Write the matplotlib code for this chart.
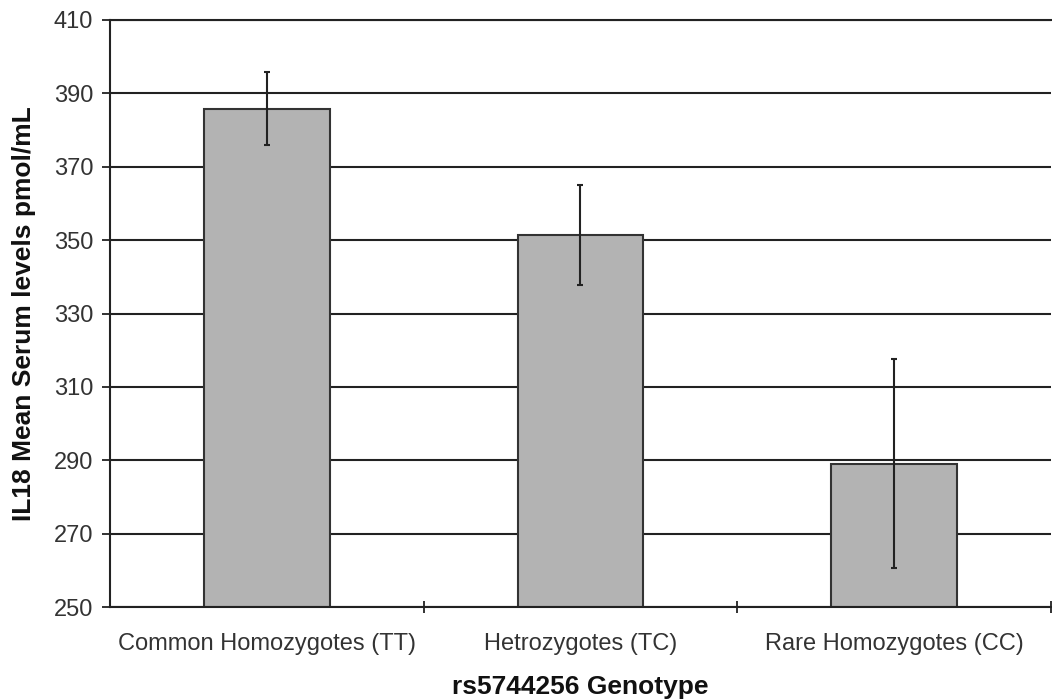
import matplotlib
matplotlib.use("Agg")
import matplotlib.pyplot as plt
import numpy as np

categories = ["Common Homozygotes (TT)", "Hetrozygotes (TC)", "Rare Homozygotes (CC)"]
means = [385.8, 351.4, 289.0]
errors = [10.0, 13.5, 28.5]
y_ticks = [250, 270, 290, 310, 330, 350, 370, 390, 410]

plt.rcParams['font.family'] = ['Liberation Sans', 'DejaVu Sans']

fig = plt.figure(figsize=(10.52, 7.0), dpi=100)
ax = fig.add_axes([110/1052, 93/700, 1 - 110/1052 - 0.001, (607-20)/700])

x = np.arange(len(categories))
ax.set_axisbelow(True)
ax.yaxis.grid(True, color='#222222', linewidth=1.5)
ax.bar(x, [m - 250 for m in means], bottom=250, width=0.4, color='#b3b3b3',
       edgecolor='#333333', linewidth=1.5, zorder=2)
ax.errorbar(x, means, yerr=errors, fmt='none', ecolor='#222222', elinewidth=1.5,
            capsize=2.5, capthick=1.5, zorder=3)

ax.set_xlim(-0.5, 2.5)
ax.set_ylim(250, 410)
ax.set_yticks(y_ticks)
ax.set_yticklabels([str(t) for t in y_ticks], fontsize=17, color='#333333')

ax.set_xticks(x)
ax.set_xticklabels(categories, fontsize=17, color='#333333')
ax.tick_params(axis='x', length=0, pad=19)
ax.set_xticks([0.5, 1.5, 2.5], minor=True)
ax.tick_params(axis='x', which='minor', length=9, direction='inout', width=1.3, color='#222222')
ax.tick_params(axis='y', length=6, width=1.3, color='#222222', pad=6)

ax.spines['right'].set_visible(False)
ax.spines['top'].set_linewidth(1.5)
ax.spines['top'].set_color('#222222')
for s in ['left', 'bottom']:
    ax.spines[s].set_linewidth(1.5)
    ax.spines[s].set_color('#222222')

ax.set_ylabel("IL18 Mean Serum levels pmol/mL", fontsize=19, fontweight='bold', color='#111111')
ax.set_xlabel("rs5744256 Genotype", fontsize=19, fontweight='bold', color='#111111')
ax.yaxis.set_label_coords((36 - 110) / 942, 0.5)
ax.xaxis.set_label_coords(0.5, (607 - 675) / 587)

fig.savefig("out.png", dpi=100)
